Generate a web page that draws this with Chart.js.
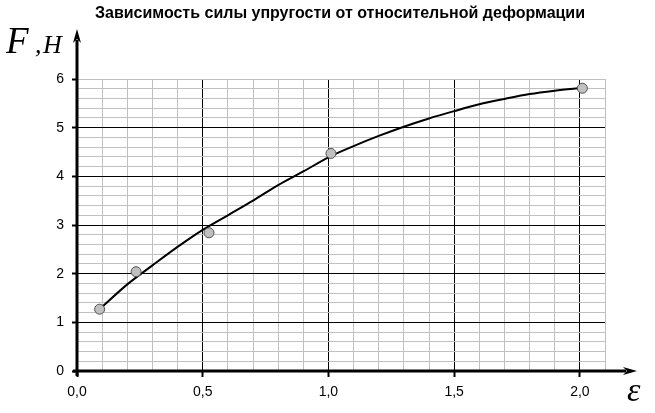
<!DOCTYPE html>
<html>
<head>
<meta charset="utf-8">
<script src="https://cdn.jsdelivr.net/npm/chart.js@4/dist/chart.umd.min.js"></script>
<style>
  html, body { margin: 0; padding: 0; background: #fff; }
  #wrap { width: 655px; height: 413px; }
</style>
</head>
<body>
<div id="wrap"><canvas id="chart"></canvas></div>
<script>
// measured points
const pointX = [0.09, 0.235, 0.525, 1.01, 2.01];
const pointF = [1.27, 2.04, 2.84, 4.47, 5.81];

// trend curve
const curveX = [0.09, 0.2, 0.3, 0.4, 0.5, 0.6, 0.7, 0.8, 0.9, 1.0, 1.1, 1.2, 1.3, 1.4, 1.5, 1.6, 1.7, 1.8, 1.9, 2.01];
const curveF = [1.27, 1.78, 2.17, 2.55, 2.90, 3.20, 3.50, 3.82, 4.10, 4.39, 4.62, 4.83, 5.02, 5.19, 5.34, 5.48, 5.59, 5.69, 5.76, 5.82];

// tick labels
const xTickValues = [0, 0.5, 1.0, 1.5, 2.0];
const xTickLabels = ['0,0', '0,5', '1,0', '1,5', '2,0'];
const yTickValues = [0, 1, 2, 3, 4, 5, 6];
const yTickLabels = ['0', '1', '2', '3', '4', '5', '6'];

const title = 'Зависимость силы упругости от относительной деформации';

const near = (a, b) => Math.abs(a - b) < 1e-6;
const xMajor = v => xTickValues.some(t => near(t, v));
const yMajor = v => yTickValues.some(t => near(t, v));

// title, axis names, thick axes with arrows
const decor = {
    id: 'decor',
    afterDatasetsDraw(chart) {
        const c = chart.ctx;
        const xs = chart.scales.x, ys = chart.scales.y;
        const x0 = xs.getPixelForValue(0);
        const y0 = ys.getPixelForValue(0);
        c.save();
        c.strokeStyle = '#000';
        c.fillStyle = '#000';
        c.lineWidth = 3;
        // y axis
        c.beginPath();
        c.moveTo(x0, y0 + 5);
        c.lineTo(x0, 40);
        c.stroke();
        c.beginPath();
        c.moveTo(x0, 29);
        c.lineTo(x0 + 4, 43);
        c.lineTo(x0, 39);
        c.lineTo(x0 - 4, 43);
        c.closePath();
        c.fill();
        // x axis
        c.beginPath();
        c.moveTo(x0 - 4, y0);
        c.lineTo(626, y0);
        c.stroke();
        c.beginPath();
        c.moveTo(637, y0);
        c.lineTo(623, y0 - 4);
        c.lineTo(627, y0);
        c.lineTo(623, y0 + 4);
        c.closePath();
        c.fill();

        // title
        c.font = 'bold 16px "Liberation Sans", Arial, sans-serif';
        c.textAlign = 'center';
        c.textBaseline = 'alphabetic';
        c.fillText(title, 340, 18);

        // axis names
        c.textAlign = 'left';
        c.font = 'italic 37px "Liberation Serif", "Times New Roman", serif';
        c.fillText('F', 6, 53);
        c.font = 'italic 26px "Liberation Serif", "Times New Roman", serif';
        c.fillText(',', 35, 53);
        c.fillText('H', 43, 53);
        c.font = 'italic 34px "Liberation Serif", "Times New Roman", serif';
        c.fillText('ε', 627, 401);
        c.restore();
    }
};

new Chart(document.getElementById('chart'), {
    type: 'scatter',
    data: {
        datasets: [{
            label: 'points',
            data: pointX.map((x, i) => ({ x: x, y: pointF[i] })),
            showLine: false,
            pointRadius: 5,
            pointBackgroundColor: '#c0c0c0',
            pointBorderColor: '#505050',
            pointBorderWidth: 1,
            order: 0
        }, {
            label: 'curve',
            data: curveX.map((x, i) => ({ x: x, y: curveF[i] })),
            showLine: true,
            borderColor: '#000',
            borderWidth: 2,
            pointRadius: 0,
            cubicInterpolationMode: 'monotone',
            order: 1
        }]
    },
    options: {
        responsive: true,
        maintainAspectRatio: false,
        animation: false,
        layout: { padding: { top: 79, right: 50, left: 0, bottom: 0 } },
        plugins: {
            legend: { display: false },
            title: { display: false },
            tooltip: { enabled: false }
        },
        scales: {
            x: {
                type: 'linear',
                min: 0,
                max: 2.1,
                afterFit: s => { s.height = 42; },
                border: { display: false },
                grid: {
                    color: ctx => xMajor(ctx.tick.value) ? '#000' : '#c0c0c0',
                    tickColor: ctx => xMajor(ctx.tick.value) ? '#000' : 'rgba(0,0,0,0)',
                    tickWidth: 2,
                    tickLength: 6
                },
                ticks: {
                    stepSize: 0.1,
                    autoSkip: false,
                    maxRotation: 0,
                    padding: 7,
                    color: '#000',
                    font: { family: '"Liberation Sans", Arial, sans-serif', size: 14 },
                    callback: v => {
                        const i = xTickValues.findIndex(t => near(t, v));
                        return i >= 0 ? xTickLabels[i] : '';
                    }
                }
            },
            y: {
                min: 0,
                max: 6,
                afterFit: s => { s.width = 77; },
                border: { display: false },
                grid: {
                    color: ctx => (yMajor(ctx.tick.value) && !near(ctx.tick.value, 6)) ? '#000' : '#c0c0c0',
                    tickColor: ctx => yMajor(ctx.tick.value) ? '#000' : 'rgba(0,0,0,0)',
                    tickWidth: 2,
                    tickLength: 5
                },
                ticks: {
                    stepSize: 0.2,
                    autoSkip: false,
                    padding: 8,
                    color: '#000',
                    font: { family: '"Liberation Sans", Arial, sans-serif', size: 14 },
                    callback: v => {
                        const i = yTickValues.findIndex(t => near(t, v));
                        return i >= 0 ? yTickLabels[i] : '';
                    }
                }
            }
        }
    },
    plugins: [decor]
});
</script>
</body>
</html>
